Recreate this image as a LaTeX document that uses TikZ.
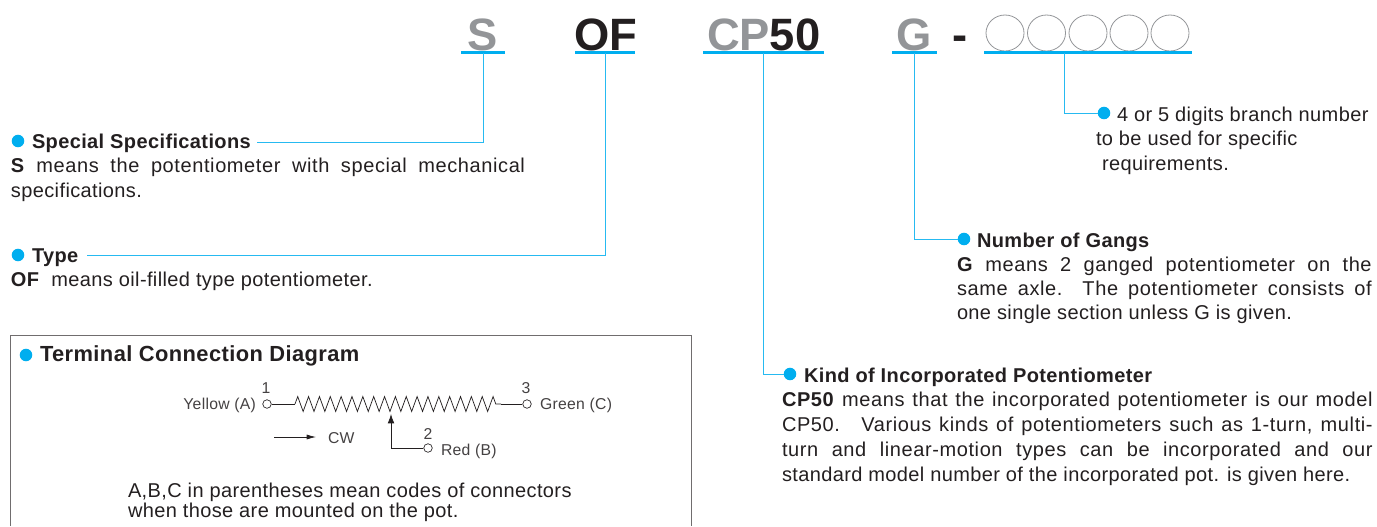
\documentclass[tikz,border=0pt]{standalone}
\usepackage{fontspec}
\setmainfont[LetterSpace=1.9]{Liberation Sans}
\usetikzlibrary{decorations.pathmorphing,arrows.meta,shapes.geometric}
\definecolor{cy}{HTML}{00AEEF}
\definecolor{gy}{HTML}{939598}
\definecolor{ink}{HTML}{231F20}
\newcommand{\bodyf}{\fontsize{15}{18}\selectfont}
\newcommand{\smallf}{\fontsize{11.8}{14}\selectfont}
\newcommand{\bigf}{\fontsize{34}{40}\selectfont\bfseries\addfontfeatures{LetterSpace=0}}
\newcommand{\fitline}[2]{\makebox[#1][s]{\addfontfeatures{LetterSpace=3}#2}}
\tikzset{
 x=0.75pt,y=-0.75pt,
 txt/.style={anchor=base west,inner sep=0,outer sep=0,text=ink,font=\bodyf},
 sm/.style={anchor=base,inner sep=0,outer sep=0,text=ink!85,font=\smallf},
 big/.style={anchor=base,inner sep=0,outer sep=0,font=\bigf},
 bar/.style={fill=cy,inner sep=0,outer sep=0,minimum height=2.8pt},
 dot/.style={circle,fill=cy,inner sep=0,outer sep=0,minimum size=9.4pt},
 lead/.style={draw=cy!85,line width=0.7pt},
 ring/.style={draw=gy,line width=0.6pt,ellipse,inner sep=0,minimum width=28.5pt,minimum height=27pt},
 term/.style={circle,draw=ink,fill=white,line width=0.5pt,inner sep=0,minimum size=6.4pt},
 wire/.style={draw=ink,line width=0.55pt},
}
\begin{document}
\begin{tikzpicture}
\useasboundingbox (0,0) rectangle (1377,526);
% code letters
\node[big,text=gy] (cS) at (483,50) {S};
\node[big,text=ink] (cOF) at (606,50) {OF};
\node[big,text=gy] (cCP) at (738.5,50) {CP};
\node[big,text=ink] (c50) at (795,50) {50};
\node[big,text=gy] (cG) at (914,50) {G};
\node[big,text=ink] (cD) at (960,50) {-};
\foreach \n/\x in {a/1005,b/1046.5,c/1088,d/1129,e/1170}
  \node[ring] (r\n) at (\x,33) {};
% bars
\node[bar,minimum width=33pt] (bS) at (483,52.5) {};
\node[bar,minimum width=45pt] (bOF) at (605,52.5) {};
\node[bar,minimum width=91pt] (bCP) at (763.5,52.5) {};
\node[bar,minimum width=34pt] (bG) at (914.5,52.5) {};
\node[bar,minimum width=156pt] (bR) at (1088,52.5) {};
% end points
\coordinate (eS) at (257,142);
\coordinate (eOF) at (87,255);
\coordinate (sR) at (1064,53);
\node[dot] (dR) at (1104,113) {};
\node[dot] (dG) at (964,239) {};
\node[dot] (dK) at (790,374) {};
\node[dot] (dS) at (18,141) {};
\node[dot] (dT) at (18,255) {};
\node[dot] (dB) at (26,355) {};
\draw[lead] (bS.center) -- (483,142) -- (eS);
\draw[lead] (bOF.center) -- (605,255) -- (eOF);
\draw[lead] (bCP.center) |- (dK);
\draw[lead] (bG.center) |- (dG);
\draw[lead] (sR) |- (dR);
% right block
\node[txt] (t1) at (1117,121) {4 or 5 digits branch number};
\node[txt] (t2) at (1096,145) {to be used for specific};
\node[txt] (t3) at (1102,170) {requirements.};
\node[txt,font=\bodyf\bfseries] (g0) at (977,247) {Number of Gangs};
\node[txt] (g1) at (957,271) {\fitline{311pt}{\textbf{G} means 2 ganged potentiometer on the}};
\node[txt] (g2) at (957,295) {\fitline{311pt}{same axle. The potentiometer consists of}};
\node[txt] (g3) at (957,319) {one single section unless G is given.};
\node[txt,font=\bodyf\bfseries] (k0) at (804,382) {Kind of Incorporated Potentiometer};
\node[txt] (k1) at (782,406) {\fitline{443pt}{\textbf{CP50} means that the incorporated potentiometer is our model}};
\node[txt] (k2) at (782,431) {\fitline{443pt}{CP50. \ Various kinds of potentiometers such as 1-turn, multi-}};
\node[txt] (k3) at (782,456) {\fitline{443pt}{turn and linear-motion types can be incorporated and our}};
\node[txt] (k4) at (782,481) {standard model number of the incorporated pot. is given here.};
% left block
\node[txt,font=\bodyf\bfseries] (s0) at (32,148) {Special Specifications};
\node[txt] (s1) at (11,172) {\fitline{385.5pt}{\textbf{S} means the potentiometer with special mechanical}};
\node[txt] (s2) at (11,197) {specifications.};
\node[txt,font=\bodyf\bfseries] (y0) at (32,262) {Type};
\node[txt] (y1) at (11,286) {\textbf{OF} \ means oil-filled type potentiometer.};
% terminal box
\coordinate (bl) at (10,526);
\coordinate (br) at (691.5,526);
\draw[draw=ink!65,line width=0.7pt] (bl) -- (10,335) -- (691.5,335) -- (br);
\node[txt,font=\fontsize{16.4}{20}\selectfont\bfseries] (b0) at (40,361) {Terminal Connection Diagram};
\node[term] (T1) at (267,404) {};
\node[term] (T3) at (527,404) {};
\node[term] (T2) at (428,448) {};
\coordinate (z0) at (295,404);
\coordinate (z1) at (501,404);
\coordinate (wip) at (391,414);
\draw[wire] (T1) -- (z0);
\draw[wire] (z1) -- (T3);
\draw[wire,decoration={zigzag,segment length=8.14pt,amplitude=5.6pt},decorate] (z0) -- (z1);
\draw[wire,-{Latex[length=7pt,width=5pt]}] (T2) -| (wip);
\coordinate (cw0) at (274,437);
\coordinate (cw1) at (316,437);
\draw[wire,-{Latex[length=7pt,width=3.8pt]}] (cw0) -- (cw1);
\node[sm] (n1) at (266,393) {1};
\node[sm] (n3) at (526,393) {3};
\node[sm] (n2) at (428,439) {2};
\node[sm,anchor=base east] (ya) at (256,409) {Yellow (A)};
\node[sm,anchor=base west] (gc) at (540,409) {Green (C)};
\node[sm,anchor=base west] (rb) at (441,455) {Red (B)};
\node[sm,anchor=base west] (cwt) at (328,443) {CW};
\node[txt] (a1) at (128,497) {A,B,C in parentheses mean codes of connectors};
\node[txt] (a2) at (128,517) {when those are mounted on the pot.};
\end{tikzpicture}
\end{document}
